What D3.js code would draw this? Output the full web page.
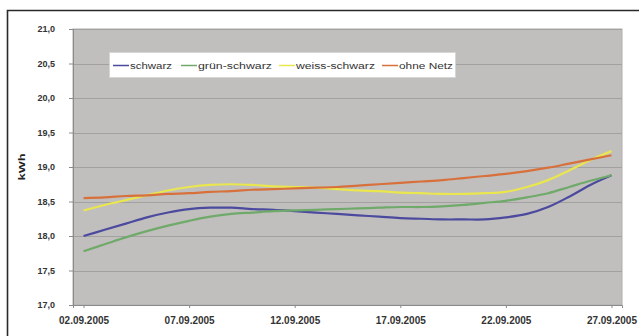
<!DOCTYPE html>
<html>
<head>
<meta charset="utf-8">
<script src="https://cdn.jsdelivr.net/npm/d3@7"></script>
<style>
  html, body { margin: 0; padding: 0; background: #ffffff; }
  svg { display: block; font-family: "Liberation Sans", Arial, sans-serif; }
</style>
</head>
<body>
<svg id="chart" width="639" height="336"></svg>
<script>
// Daily measurement dates, 02.09.2005 – 27.09.2005
const days = d3.range(2, 28).map(d => new Date(2005, 8, d));

const seriesNames = ["schwarz", "grün-schwarz", "weiss-schwarz", "ohne Netz"];
const seriesColors = ["#4b4a9e", "#6faa6a", "#e9e64e", "#d8703c"];

const schwarz = [18.00, 18.09, 18.18, 18.27, 18.34, 18.39, 18.41, 18.41, 18.39, 18.38,
                 18.36, 18.34, 18.32, 18.30, 18.28, 18.26, 18.25, 18.24, 18.24, 18.24,
                 18.27, 18.32, 18.42, 18.57, 18.74, 18.88];
const gruenSchwarz = [17.78, 17.88, 17.98, 18.07, 18.15, 18.22, 18.28, 18.32, 18.34, 18.36,
                      18.37, 18.38, 18.39, 18.40, 18.41, 18.42, 18.42, 18.43, 18.45, 18.48,
                      18.51, 18.56, 18.62, 18.71, 18.80, 18.88];
const weissSchwarz = [18.37, 18.45, 18.52, 18.59, 18.66, 18.71, 18.74, 18.75, 18.74, 18.72,
                      18.71, 18.70, 18.68, 18.66, 18.65, 18.63, 18.62, 18.61, 18.61, 18.62,
                      18.64, 18.71, 18.81, 18.95, 19.10, 19.23];
const ohneNetz = [18.55, 18.56, 18.58, 18.59, 18.61, 18.62, 18.64, 18.65, 18.67, 18.68,
                  18.69, 18.70, 18.71, 18.73, 18.75, 18.77, 18.79, 18.81, 18.84, 18.87,
                  18.90, 18.94, 18.99, 19.05, 19.11, 19.17];

const yTicks = [17.0, 17.5, 18.0, 18.5, 19.0, 19.5, 20.0, 20.5, 21.0];
const xTickDates = [2, 7, 12, 17, 22, 27].map(d => new Date(2005, 8, d));
const yLabel = "kWh";

const seriesValues = [schwarz, gruenSchwarz, weissSchwarz, ohneNetz];

const svg = d3.select("#chart");
const plot = { left: 73, right: 622, top: 29, bottom: 305 };

// Outer frame
svg.append("path")
  .attr("d", "M7.5,336 V10.5 H639")
  .attr("fill", "none")
  .attr("stroke", "#2a2a2a")
  .attr("stroke-width", 1.6);

const x = d3.scaleTime()
  .domain([new Date(2005, 8, 1, 12), new Date(2005, 8, 27, 12)])
  .range([plot.left, plot.right]);
const y = d3.scaleLinear()
  .domain([17, 21])
  .range([plot.bottom, plot.top]);

const deLocale = d3.formatLocale({ decimal: ",", thousands: ".", grouping: [3], currency: ["", " €"] });
const fmtY = deLocale.format(".1f");
const fmtX = d3.timeFormat("%d.%m.%Y");

// Plot area background
svg.append("rect")
  .attr("x", plot.left).attr("y", plot.top)
  .attr("width", plot.right - plot.left).attr("height", plot.bottom - plot.top)
  .attr("fill", "#c1bfbd")
  .attr("stroke", "#b0aeac");

// Horizontal gridlines
svg.append("g")
  .selectAll("line")
  .data(yTicks)
  .join("line")
  .attr("x1", plot.left).attr("x2", plot.right)
  .attr("y1", d => Math.round(y(d)) + 0.5).attr("y2", d => Math.round(y(d)) + 0.5)
  .attr("stroke", "#a3a1a0")
  .attr("stroke-width", 1);

// Y axis
const yAxis = svg.append("g")
  .attr("transform", `translate(${plot.left},0)`)
  .call(d3.axisLeft(y).tickValues(yTicks).tickFormat(fmtY).tickSize(4).tickPadding(14));
yAxis.select(".domain").attr("stroke", "#8a8a8a");
yAxis.selectAll(".tick line").attr("stroke", "#8a8a8a");
yAxis.selectAll("text")
  .attr("font-size", 9)
  .attr("font-weight", "bold")
  .attr("fill", "#333");

// X axis
const xAxis = svg.append("g")
  .attr("transform", `translate(0,${plot.bottom})`)
  .call(d3.axisBottom(x).tickValues(xTickDates).tickFormat(fmtX).tickSize(3).tickPadding(9));
xAxis.select(".domain").attr("stroke", "#8a8a8a");
xAxis.selectAll(".tick line").attr("stroke", "#8a8a8a");
xAxis.selectAll("text")
  .attr("font-size", 10)
  .attr("font-weight", "bold")
  .attr("fill", "#333");

// Y axis title
svg.append("text")
  .attr("transform", `translate(25,167) rotate(-90)`)
  .attr("text-anchor", "middle")
  .attr("font-size", 9)
  .attr("font-weight", "bold")
  .attr("fill", "#222")
  .attr("textLength", 27)
  .attr("lengthAdjust", "spacingAndGlyphs")
  .text(yLabel);

// Series lines
const line = d3.line()
  .x((d, i) => x(days[i]))
  .y(d => y(d))
  .curve(d3.curveCatmullRom.alpha(0.5));

svg.append("g")
  .selectAll("path")
  .data(seriesValues)
  .join("path")
  .attr("d", d => line(d))
  .attr("fill", "none")
  .attr("stroke", (d, i) => seriesColors[i])
  .attr("stroke-width", 2.2)
  .attr("stroke-linejoin", "round");

// Legend
const legend = svg.append("g");
legend.append("rect")
  .attr("x", 109.5).attr("y", 52.5)
  .attr("width", 346).attr("height", 25)
  .attr("fill", "#ffffff")
  .attr("stroke", "#d6d6d6");

const legendItems = [
  { lx: 113, tx: 130, w: 42 },
  { lx: 181, tx: 198, w: 74 },
  { lx: 279, tx: 296, w: 79 },
  { lx: 382, tx: 399, w: 54 }
];
legendItems.forEach((p, i) => {
  legend.append("line")
    .attr("x1", p.lx).attr("x2", p.tx - 1)
    .attr("y1", 65.5).attr("y2", 65.5)
    .attr("stroke", seriesColors[i])
    .attr("stroke-width", 1.5);
  legend.append("text")
    .attr("x", p.tx).attr("y", 68.5)
    .attr("font-size", 8.5)
    .attr("fill", "#333")
    .attr("textLength", p.w)
    .attr("lengthAdjust", "spacingAndGlyphs")
    .text(seriesNames[i]);
});
</script>
</body>
</html>
